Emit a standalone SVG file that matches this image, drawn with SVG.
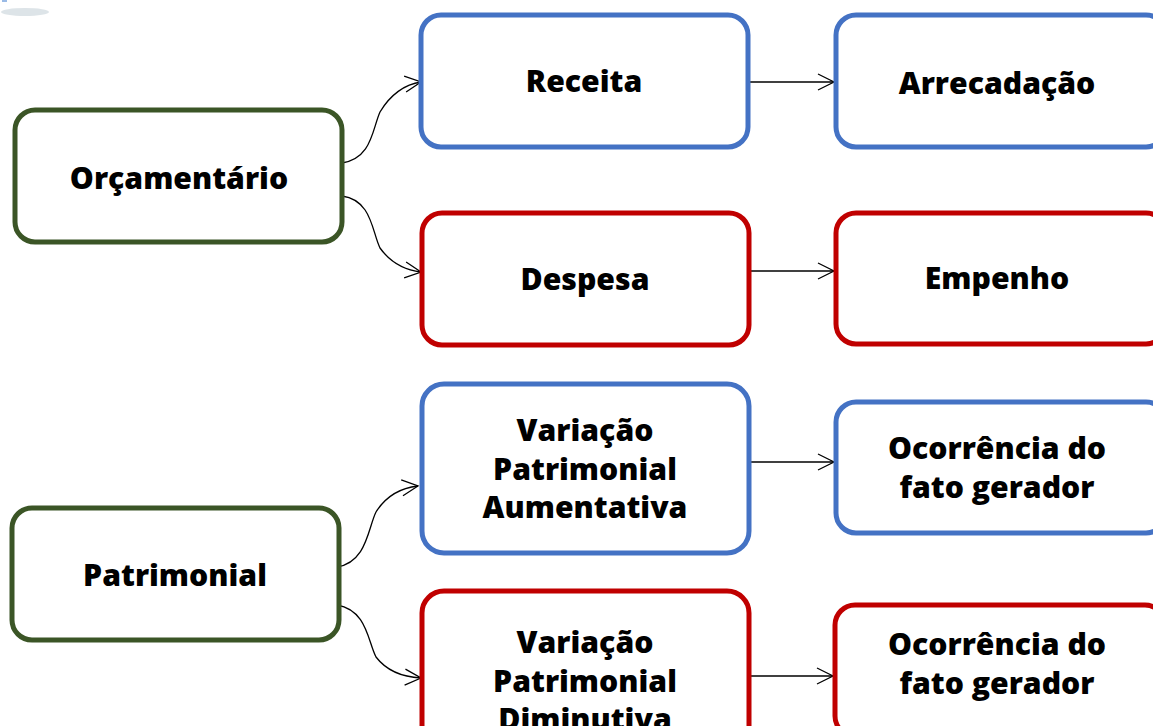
<svg xmlns="http://www.w3.org/2000/svg" width="1153" height="726" viewBox="0 0 1153 726">
<style>
.box{fill:#fff;stroke-width:5}
.g{stroke:#3b5526}
.b{stroke:#4472c4}
.r{stroke:#c00000}
text{font-family:"Open Sans","Noto Sans","Liberation Sans",sans-serif;font-weight:800;font-size:30.2px;fill:#000;text-anchor:middle}
.c{fill:none;stroke:#000;stroke-width:1.3;marker-end:url(#ah)}
</style>
<defs>
<marker id="ah" markerUnits="userSpaceOnUse" markerWidth="20" markerHeight="20" refX="17" refY="10" orient="auto">
<path d="M1,2 L17,10 L1,18" fill="none" stroke="#000" stroke-width="1.3"/>
</marker>
</defs>
<rect width="1153" height="726" fill="#fff"/>
<ellipse cx="25" cy="12" rx="24" ry="4" fill="#dde4e8"/>
<rect x="2" y="0" width="5" height="2" fill="#9bbbe6"/>
<g id="connectors">
<path class="c" d="M342,163 C372,158 372,130 380,112 C390,95 405,84 421,82"/>
<path class="c" d="M342,196 C372,200 372,232 380,248 C390,262 405,270 421,272"/>
<path class="c" d="M337,567 C367,562 368,528 376,512 C386,496 400,488 418,486"/>
<path class="c" d="M337,605 C367,610 368,642 376,657 C386,670 402,677 421,678"/>
<path class="c" d="M748,82 H834"/>
<path class="c" d="M749,271 H834"/>
<path class="c" d="M749,462 H834"/>
<path class="c" d="M750,676 H833"/>
</g>
<g id="orcamentario"><rect class="box g" x="15" y="110" width="327" height="132" rx="20"/><text x="179" y="189">Orçamentário</text></g>
<g id="receita"><rect class="box b" x="421" y="15" width="327" height="132" rx="20"/><text x="584" y="92">Receita</text></g>
<g id="arrecadacao"><rect class="box b" x="836" y="15" width="330" height="132" rx="20"/><text x="997" y="94">Arrecadação</text></g>
<g id="despesa"><rect class="box r" x="422" y="213" width="327" height="132" rx="20"/><text x="585" y="290">Despesa</text></g>
<g id="empenho"><rect class="box r" x="836" y="213" width="330" height="131" rx="20"/><text x="997" y="289">Empenho</text></g>
<g id="vpa"><rect class="box b" x="422" y="384" width="327" height="169" rx="22"/><text x="585" y="441">Variação</text><text x="585" y="480">Patrimonial</text><text x="585" y="518">Aumentativa</text></g>
<g id="ocorrencia1"><rect class="box b" x="836" y="402" width="330" height="131" rx="20"/><text x="997" y="459">Ocorrência do</text><text x="997" y="498">fato gerador</text></g>
<g id="patrimonial"><rect class="box g" x="12" y="508" width="327" height="132" rx="20"/><text x="175" y="586">Patrimonial</text></g>
<g id="vpd"><rect class="box r" x="422" y="591" width="327" height="169" rx="22"/><text x="585" y="653">Variação</text><text x="585" y="692">Patrimonial</text><text x="585" y="730">Diminutiva</text></g>
<g id="ocorrencia2"><rect class="box r" x="835" y="605" width="330" height="131" rx="20"/><text x="997" y="655">Ocorrência do</text><text x="997" y="694">fato gerador</text></g>
</svg>
